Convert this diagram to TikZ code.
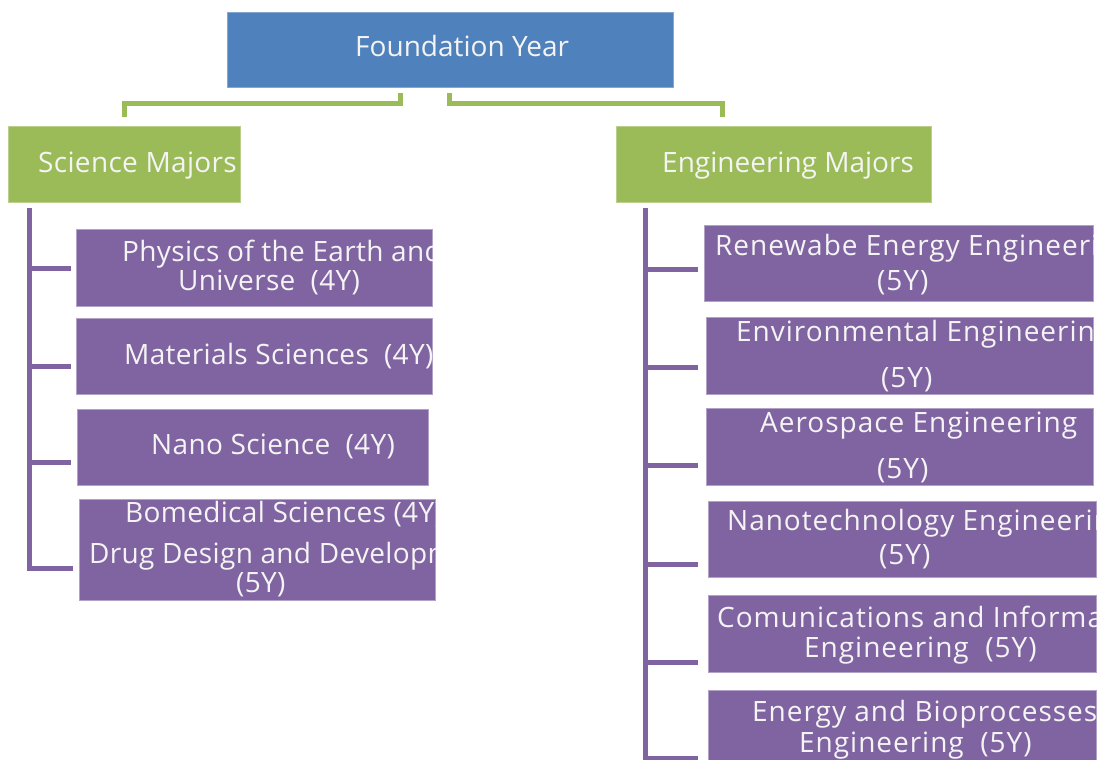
\documentclass[tikz,border=0pt]{standalone}
\usepackage{fontspec}
\setmainfont{Open Sans}
\definecolor{fblue}{HTML}{4F81BD}
\definecolor{sgreen}{HTML}{9BBB59}
\definecolor{mpurple}{HTML}{8064A2}
\definecolor{txtw}{HTML}{F4F4F4}
\newcommand{\BoxAt}[6]{\node[#2, minimum width={(#5-#3)*1pt}, minimum height={(#6-#4)*1pt}] (#1) at ({(#3+#5)/2},{(#4+#6)/2}) {};}
\newcommand{\TLine}[5][]{\node[txt,#1] (#2) at (#3,#4) {#5};}
\newcommand{\ClipTo}[1]{\clip (#1.south west) rectangle (#1.north east);}
\begin{document}
\begin{tikzpicture}[x=1pt,y=-1pt,
  boxbase/.style={rectangle, inner sep=0pt, outer sep=0pt},
  topbox/.style={boxbase, fill=fblue, draw=fblue!70!white, line width=0.8pt},
  majbox/.style={boxbase, fill=sgreen, draw=sgreen!70!white, line width=0.8pt},
  subbox/.style={boxbase, fill=mpurple, draw=mpurple!60!white, line width=0.8pt},
  txt/.style={anchor=base west, inner sep=0pt, text=txtw, font=\fontsize{28}{32}\selectfont},
  stxt/.style={font=\fontsize{28}{32}\selectfont\addfontfeature{LetterSpace=1.2}},
  etxt/.style={font=\fontsize{28}{32}\selectfont\addfontfeature{LetterSpace=3.5}},
  gline/.style={draw=sgreen, line width=5pt},
  pline/.style={draw=mpurple, line width=5pt},
]
\clip (0,0) rectangle (1111,760);
\fill[white] (0,0) rectangle (1111,760);

% top
\BoxAt{found}{topbox}{227}{12}{673}{87}
\begin{scope}\ClipTo{found}\TLine{foundt}{355}{57}{Foundation Year}\end{scope}

% majors
\BoxAt{sci}{majbox}{8}{126}{240}{202}
\begin{scope}\ClipTo{sci}\TLine[stxt]{scit}{38}{172}{Science Majors}\end{scope}
\BoxAt{eng}{majbox}{616}{126}{931}{202}
\begin{scope}\ClipTo{eng}\TLine{engt}{662}{172}{Engineering Majors}\end{scope}

% green connectors
\coordinate (gl0) at (400,93);
\coordinate (gl1) at (124,117);
\coordinate (gr0) at (449,93);
\coordinate (gr1) at (722,117);
\draw[gline] (gl0) -- (gl0 |- 0,103) -| (gl1);
\draw[gline] (gr0) -- (gr0 |- 0,103) -| (gr1);

% science subjects
\BoxAt{s1}{subbox}{76}{229}{432}{306}
\begin{scope}\ClipTo{s1}
\TLine[stxt]{s1a}{122}{261}{Physics of the Earth and}
\TLine[stxt]{s1b}{178}{290}{Universe\ \ (4Y)}
\end{scope}
\BoxAt{s2}{subbox}{76}{318}{432}{394}
\begin{scope}\ClipTo{s2}
\TLine[stxt]{s2a}{124}{364}{Materials Sciences\ \ (4Y)}
\end{scope}
\BoxAt{s3}{subbox}{77}{409}{428}{485}
\begin{scope}\ClipTo{s3}
\TLine[stxt]{s3a}{151}{454}{Nano Science\ \ (4Y)}
\end{scope}
\BoxAt{s4}{subbox}{79}{499}{435}{600}
\begin{scope}\ClipTo{s4}
\TLine[stxt]{s4a}{125}{522}{Bomedical Sciences (4Y)}
\TLine[stxt]{s4b}{89}{563}{Drug Design and Development}
\TLine[stxt]{s4c}{236}{592}{(5Y)}
\end{scope}

% science tree
\coordinate (st) at (29,208);
\coordinate (sh1) at (71,268);
\coordinate (sh2) at (71,366);
\coordinate (sh3) at (71,462);
\coordinate (sh4) at (73,568);
\draw[pline] (st) |- (sh4);
\foreach \k in {1,2,3}{\draw[pline] (st |- sh\k) -- (sh\k);}

% engineering subjects
\BoxAt{e1}{subbox}{704}{225}{1093}{301}
\begin{scope}\ClipTo{e1}
\TLine[etxt]{e1a}{715}{255}{Renewabe Energy Engineering}
\TLine[etxt]{e1b}{877}{290}{(5Y)}
\end{scope}
\BoxAt{e2}{subbox}{706}{317}{1093}{394}
\begin{scope}\ClipTo{e2}
\TLine[etxt]{e2a}{736}{341}{Environmental Engineering}
\TLine[etxt]{e2b}{881}{387}{(5Y)}
\end{scope}
\BoxAt{e3}{subbox}{706}{408}{1093}{485}
\begin{scope}\ClipTo{e3}
\TLine[etxt]{e3a}{760}{432}{Aerospace Engineering}
\TLine[etxt]{e3b}{877}{478}{(5Y)}
\end{scope}
\BoxAt{e4}{subbox}{708}{501}{1096}{577}
\begin{scope}\ClipTo{e4}
\TLine[etxt]{e4a}{727}{530}{Nanotechnology Engineering}
\TLine[etxt]{e4b}{879}{564}{(5Y)}
\end{scope}
\BoxAt{e5}{subbox}{708}{595}{1096}{672}
\begin{scope}\ClipTo{e5}
\TLine[etxt]{e5a}{717}{627}{Comunications and Information}
\TLine[etxt]{e5b}{804}{657}{Engineering\ \ (5Y)}
\end{scope}
\BoxAt{e6}{subbox}{708}{690}{1096}{790}
\begin{scope}\ClipTo{e6}
\TLine[etxt]{e6a}{752}{721}{Energy and Bioprocesses}
\TLine[etxt]{e6b}{799}{752}{Engineering\ \ (5Y)}
\end{scope}

% engineering tree
\coordinate (et) at (645,208);
\coordinate (eb) at (645,770);
\draw[pline] (et) -- (eb);
\coordinate (eh1) at (698,269);
\coordinate (eh2) at (698,367);
\coordinate (eh3) at (698,465);
\coordinate (eh4) at (698,564);
\coordinate (eh5) at (698,662);
\coordinate (eh6) at (698,758);
\foreach \k in {1,...,6}{\draw[pline] (et |- eh\k) -- (eh\k);}
\end{tikzpicture}
\end{document}
